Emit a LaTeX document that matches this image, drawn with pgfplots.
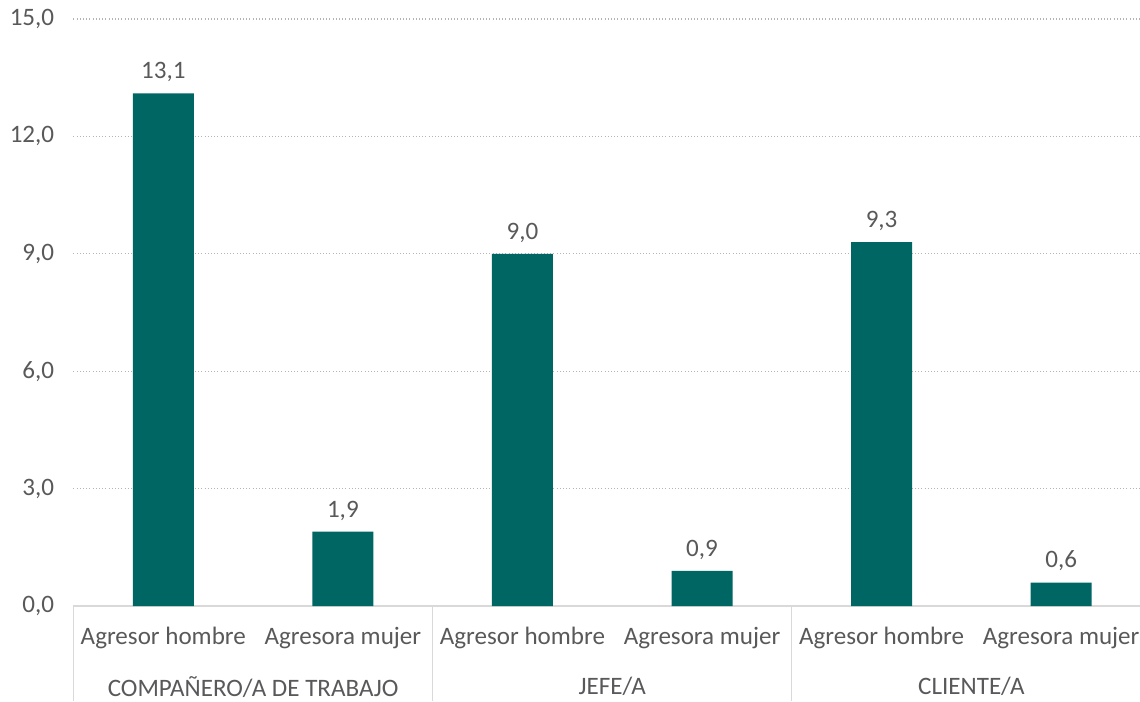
\documentclass[border=0pt]{standalone}
\usepackage{pgfplots}
\pgfplotsset{compat=1.18}
\usepackage{fontspec}
\setmainfont{Carlito}
\definecolor{barc}{RGB}{0,102,100}
\definecolor{txt}{RGB}{89,89,89}
\definecolor{gridc}{RGB}{180,180,180}
\definecolor{axc}{RGB}{217,217,217}
\newcommand\fs{\fontsize{18.8}{21}\selectfont}
\begin{document}
\begin{tikzpicture}[x=1pt,y=1pt]
\begin{axis}[
  scale only axis,
  width=799.875pt, height=440.25pt,
  xmin=-0.5, xmax=5.439,
  ymin=0, ymax=15,
  ytick={0,3,6,9,12,15},
  xtick={0,1,2,3,4,5},
  xticklabels={Agresor hombre,Agresora mujer,Agresor hombre,Agresora mujer,Agresor hombre,Agresora mujer},
  major tick length=0pt,
  axis x line*=bottom,
  axis y line*=left,
  y axis line style={draw=none},
  x axis line style={draw=axc, line width=1pt, -},
  ymajorgrids,
  grid style={draw=gridc, dotted, line width=1pt},
  /pgf/number format/assume math mode=true,
  yticklabel style={anchor=east, xshift=-11pt, font=\fs, text=txt, /pgf/number format/.cd, fixed, fixed zerofill, precision=1, use comma},
  xticklabel style={anchor=center, yshift=-24pt, font=\fs, text=txt},
  ybar, bar width=45.75pt,
  nodes near coords,
  nodes near coords style={font=\fs, text=txt, /pgf/number format/.cd, fixed, fixed zerofill, precision=1, use comma, /tikz/.cd, yshift=5pt},
  clip=false,
]
\addplot[fill=barc, draw=none] coordinates {(0,13.1) (1,1.9) (2,9.0) (3,0.9) (4,9.3) (5,0.6)};
\draw[axc, line width=1pt] (axis cs:-0.5,0) -- ([yshift=-71.25pt]axis cs:-0.5,0);
\draw[axc, line width=1pt] (axis cs:1.5,0) -- ([yshift=-71.25pt]axis cs:1.5,0);
\draw[axc, line width=1pt] (axis cs:3.5,0) -- ([yshift=-71.25pt]axis cs:3.5,0);
\node[font=\fs, text=txt] at ([yshift=-60.5pt]axis cs:0.5,0) {COMPAÑERO/A DE TRABAJO};
\node[font=\fs, text=txt] at ([yshift=-60.5pt]axis cs:2.5,0) {JEFE/A};
\node[font=\fs, text=txt] at ([yshift=-60.5pt]axis cs:4.5,0) {CLIENTE/A};
\coordinate (O) at (rel axis cs:0,0);
\coordinate (TR) at (rel axis cs:1,1);
\end{axis}
\pgfresetboundingbox
\path[use as bounding box] ([xshift=-55.125pt, yshift=-71.25pt]O) rectangle ([yshift=14.25pt]TR);
\end{tikzpicture}
\end{document}
